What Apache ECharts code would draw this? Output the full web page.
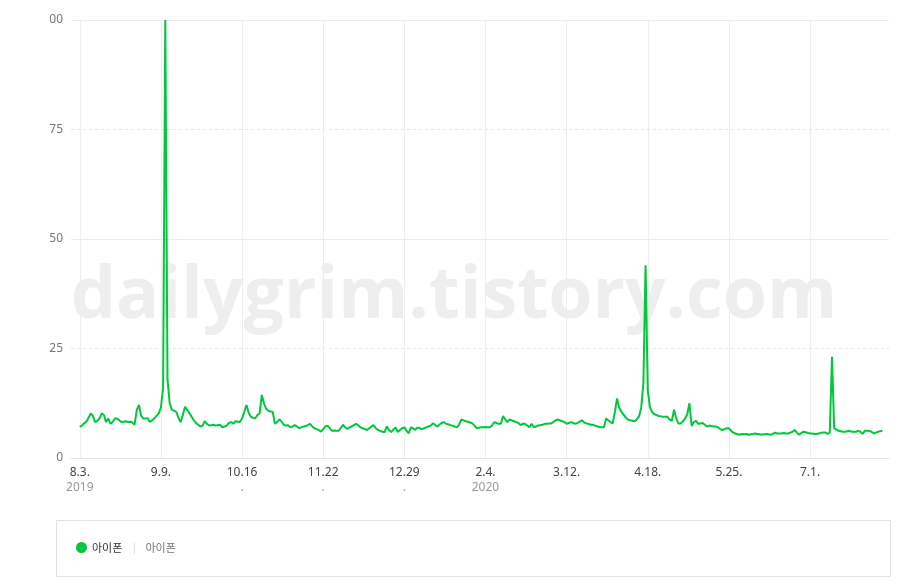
<!DOCTYPE html>
<html>
<head>
<meta charset="utf-8">
<script src="https://cdn.jsdelivr.net/npm/echarts@6/dist/echarts.min.js"></script>
<style>
html,body{margin:0;padding:0;background:#fff;}
#chart{width:911px;height:587px;}
</style>
</head>
<body>
<div id="chart"></div>
<script>
// ---- data ----
const startDate = '2019-08-03';
const seriesName = '아이폰';
const iphoneValues = [
  7.1, 7.4, 7.9, 8.3, 9.2, 10.2, 9.6, 8.2, 8.5, 9.0,
  10.2, 9.8, 8.2, 9.0, 7.8, 8.2, 9.0, 9.0, 8.6, 8.2,
  8.3, 8.4, 8.2, 8.3, 8.1, 7.6, 11.0, 12.1, 9.6, 9.0,
  9.0, 9.1, 8.2, 8.6, 9.0, 9.6, 10.2, 11.5, 16.0, 100,
  18.0, 12.5, 11.0, 10.8, 10.5, 9.2, 8.2, 9.8, 11.7, 11.0,
  10.2, 9.4, 8.6, 8.0, 7.6, 7.2, 7.4, 8.4, 7.8, 7.4,
  7.5, 7.6, 7.4, 7.5, 7.6, 7.0, 7.2, 7.4, 8.0, 8.2,
  7.8, 8.4, 8.3, 8.2, 9.0, 10.5, 12.1, 10.4, 9.4, 9.2,
  9.0, 9.8, 10.2, 14.4, 12.5, 11.2, 10.8, 10.6, 10.5, 7.8,
  8.2, 8.8, 8.3, 7.6, 7.4, 7.5, 7.0, 7.2, 7.5, 7.2,
  6.8, 7.0, 7.2, 7.3, 7.5, 7.8, 7.2, 6.8, 6.6, 6.4,
  6.0, 6.6, 7.2, 7.4, 6.8, 6.2, 6.3, 6.2, 6.2, 6.8,
  7.6, 7.0, 6.6, 7.0, 7.2, 7.5, 7.8, 7.4, 7.0, 6.8,
  6.6, 6.4, 6.8, 7.2, 7.5, 6.8, 6.4, 6.2, 6.0, 5.9,
  7.2, 6.4, 5.9, 6.5, 7.0, 5.9, 6.4, 6.8, 7.0, 6.2,
  5.6, 7.0, 6.8, 6.4, 7.0, 6.8, 6.6, 6.8, 7.0, 7.2,
  7.4, 7.9, 7.6, 7.2, 7.6, 8.0, 8.2, 7.8, 7.7, 7.5,
  7.4, 7.2, 7.0, 7.6, 8.8, 8.6, 8.4, 8.3, 8.1, 7.9,
  7.4, 6.8, 6.9, 7.0, 7.0, 7.1, 7.0, 7.0, 7.4, 8.2,
  8.0, 7.8, 7.8, 9.6, 8.8, 8.2, 8.8, 8.6, 8.4, 8.2,
  8.0, 7.5, 7.8, 7.8, 7.4, 7.0, 7.8, 7.0, 7.2, 7.4,
  7.5, 7.6, 7.8, 7.8, 7.9, 7.9, 8.2, 8.6, 8.8, 8.6,
  8.4, 8.2, 7.8, 8.0, 8.2, 8.0, 7.8, 8.0, 8.3, 8.6,
  8.1, 7.9, 7.8, 7.6, 7.6, 7.4, 7.2, 7.1, 7.0, 7.0,
  9.0, 8.6, 8.2, 7.9, 10.5, 13.6, 11.5, 10.5, 9.9, 9.2,
  8.8, 8.6, 8.5, 8.4, 8.8, 9.5, 11.5, 17.0, 44.0, 15.5,
  11.5, 10.5, 10.0, 9.8, 9.6, 9.5, 9.4, 9.4, 9.4, 8.8,
  8.5, 11.0, 9.0, 7.9, 7.9, 8.4, 9.0, 10.0, 12.5, 7.3,
  8.2, 8.5, 7.8, 7.9, 8.0, 7.6, 7.2, 7.4, 7.3, 7.2,
  7.2, 7.0, 6.6, 6.4, 6.6, 6.8, 6.8, 6.2, 5.8, 5.6,
  5.4, 5.3, 5.5, 5.4, 5.5, 5.3, 5.4, 5.5, 5.6, 5.5,
  5.4, 5.3, 5.4, 5.5, 5.4, 5.3, 5.5, 5.8, 5.6, 5.6,
  5.6, 5.7, 5.6, 5.6, 5.8, 6.0, 6.4, 5.8, 5.3, 5.7,
  6.0, 5.9, 5.7, 5.6, 5.6, 5.5, 5.5, 5.6, 5.7, 5.8,
  5.8, 5.5, 5.8, 23.1, 6.8, 6.5, 6.2, 6.1, 6.0, 6.0,
  6.1, 6.2, 6.0, 6.0, 6.0, 6.2, 6.0, 5.5, 6.2, 6.2,
  6.2, 6.0, 5.6, 5.8, 6.0, 6.1, 6.2
];
const tickDates = ['2019-08-03','2019-09-09','2019-10-16','2019-11-22','2019-12-29','2020-02-04','2020-03-12','2020-04-18','2020-05-25','2020-07-01'];
const tickTexts = ['8.3.','9.9.','10.16','11.22','12.29','2.4.','3.12.','4.18.','5.25.','7.1.'];
const tickSubs  = ['2019','','.','.','.','2020','','','',''];
const yTicks = [0, 25, 50, 75, 100];
const yTickLabels = ['0', '25', '50', '75', '00'];
const watermark = 'dailygrim.tistory.com';

// ---- build categories ----
function fmt(d){
  const m = String(d.getUTCMonth()+1).padStart(2,'0');
  const dd = String(d.getUTCDate()).padStart(2,'0');
  return d.getUTCFullYear()+'-'+m+'-'+dd;
}
const padBefore = 4, padAfter = 3;
const categories = [];
const values = [];
for (let i = 0; i < padBefore; i++) { categories.push('pre' + i); values.push(null); }
const s = new Date(startDate + 'T00:00:00Z');
for (let i = 0; i < iphoneValues.length; i++) {
  const d = new Date(s.getTime() + i * 86400000);
  categories.push(fmt(d));
  values.push(iphoneValues[i]);
}
for (let i = 0; i < padAfter; i++) { categories.push('post' + i); values.push(null); }

const tickSet = new Set(tickDates);
const tickInterval = function (idx, val) { return tickSet.has(val); };

const chart = echarts.init(document.getElementById('chart'), null, {renderer: 'canvas'});
const FONT = '"Noto Sans", "Noto Sans CJK KR", sans-serif';

chart.setOption({
  animation: false,
  backgroundColor: '#fff',
  grid: {left: 71, right: 22, top: 20, bottom: 129, containLabel: false},
  legend: {
    data: [seriesName],
    left: 76, top: 542,
    padding: 0,
    icon: 'circle',
    itemWidth: 11, itemHeight: 11,
    selectedMode: false,
    formatter: function (n) { return '{a|' + n + '}{s||}{b|' + n + '}'; },
    textStyle: {
      fontFamily: FONT,
      rich: {
        a: {color: '#333', fontSize: 11, fontFamily: '"Noto Sans CJK KR", sans-serif'},
        s: {color: '#d5d5d5', fontSize: 11, padding: [0, 8, 0, 9]},
        b: {color: '#777', fontSize: 11, fontFamily: '"Noto Sans CJK KR", sans-serif'}
      }
    }
  },
  graphic: [
    {
      type: 'rect', z: 1, silent: true,
      shape: {x: 56.5, y: 520.5, width: 834, height: 56},
      style: {fill: '#fff', stroke: '#e2e2e2', lineWidth: 1}
    },
    {
      type: 'text', z: 1, silent: true,
      x: 454, y: 298,
      style: {
        text: watermark, textAlign: 'center', textVerticalAlign: 'middle',
        font: 'bold 71.5px "Open Sans", sans-serif', fill: '#eeeeee'
      }
    }
  ],
  xAxis: {
    type: 'category',
    data: categories,
    boundaryGap: false,
    axisLine: {show: true, lineStyle: {color: '#e6e6e6', width: 1}},
    axisTick: {show: false},
    axisLabel: {
      interval: tickInterval,
      margin: 7,
      fontFamily: FONT,
      formatter: function (val) {
        const i = tickDates.indexOf(val);
        if (i < 0) return '';
        return '{a|' + tickTexts[i] + '}\n{b|' + (tickSubs[i] || ' ') + '}';
      },
      rich: {
        a: {color: '#444', fontSize: 12, lineHeight: 15, fontFamily: FONT},
        b: {color: '#999', fontSize: 12, lineHeight: 15, fontFamily: FONT}
      }
    },
    splitLine: {show: true, interval: tickInterval, lineStyle: {color: '#eeeeee', width: 1}}
  },
  yAxis: [
    {
      type: 'value', min: 0, max: 100, interval: 25,
      axisLine: {show: false}, axisTick: {show: false},
      axisLabel: {
        color: '#777', fontSize: 12, margin: 8, fontFamily: FONT,
        formatter: function (v) { const i = yTicks.indexOf(v); return i >= 0 ? yTickLabels[i] : ''; }
      },
      splitLine: {show: true, lineStyle: {color: '#e6e6e6', type: [3, 3], width: 1}}
    },
    {
      type: 'value', min: 0, max: 100, interval: 50, position: 'left',
      axisLine: {show: false}, axisTick: {show: false}, axisLabel: {show: false},
      splitLine: {show: true, lineStyle: {color: '#eaeaea', type: 'solid', width: 1}}
    }
  ],
  series: [
    {
      name: seriesName,
      type: 'line',
      yAxisIndex: 0,
      data: values,
      showSymbol: false,
      symbol: 'circle',
      z: 3,
      itemStyle: {color: '#00c73c'},
      lineStyle: {color: '#00c73c', width: 2},
      connectNulls: false
    }
  ]
});
</script>
</body>
</html>
